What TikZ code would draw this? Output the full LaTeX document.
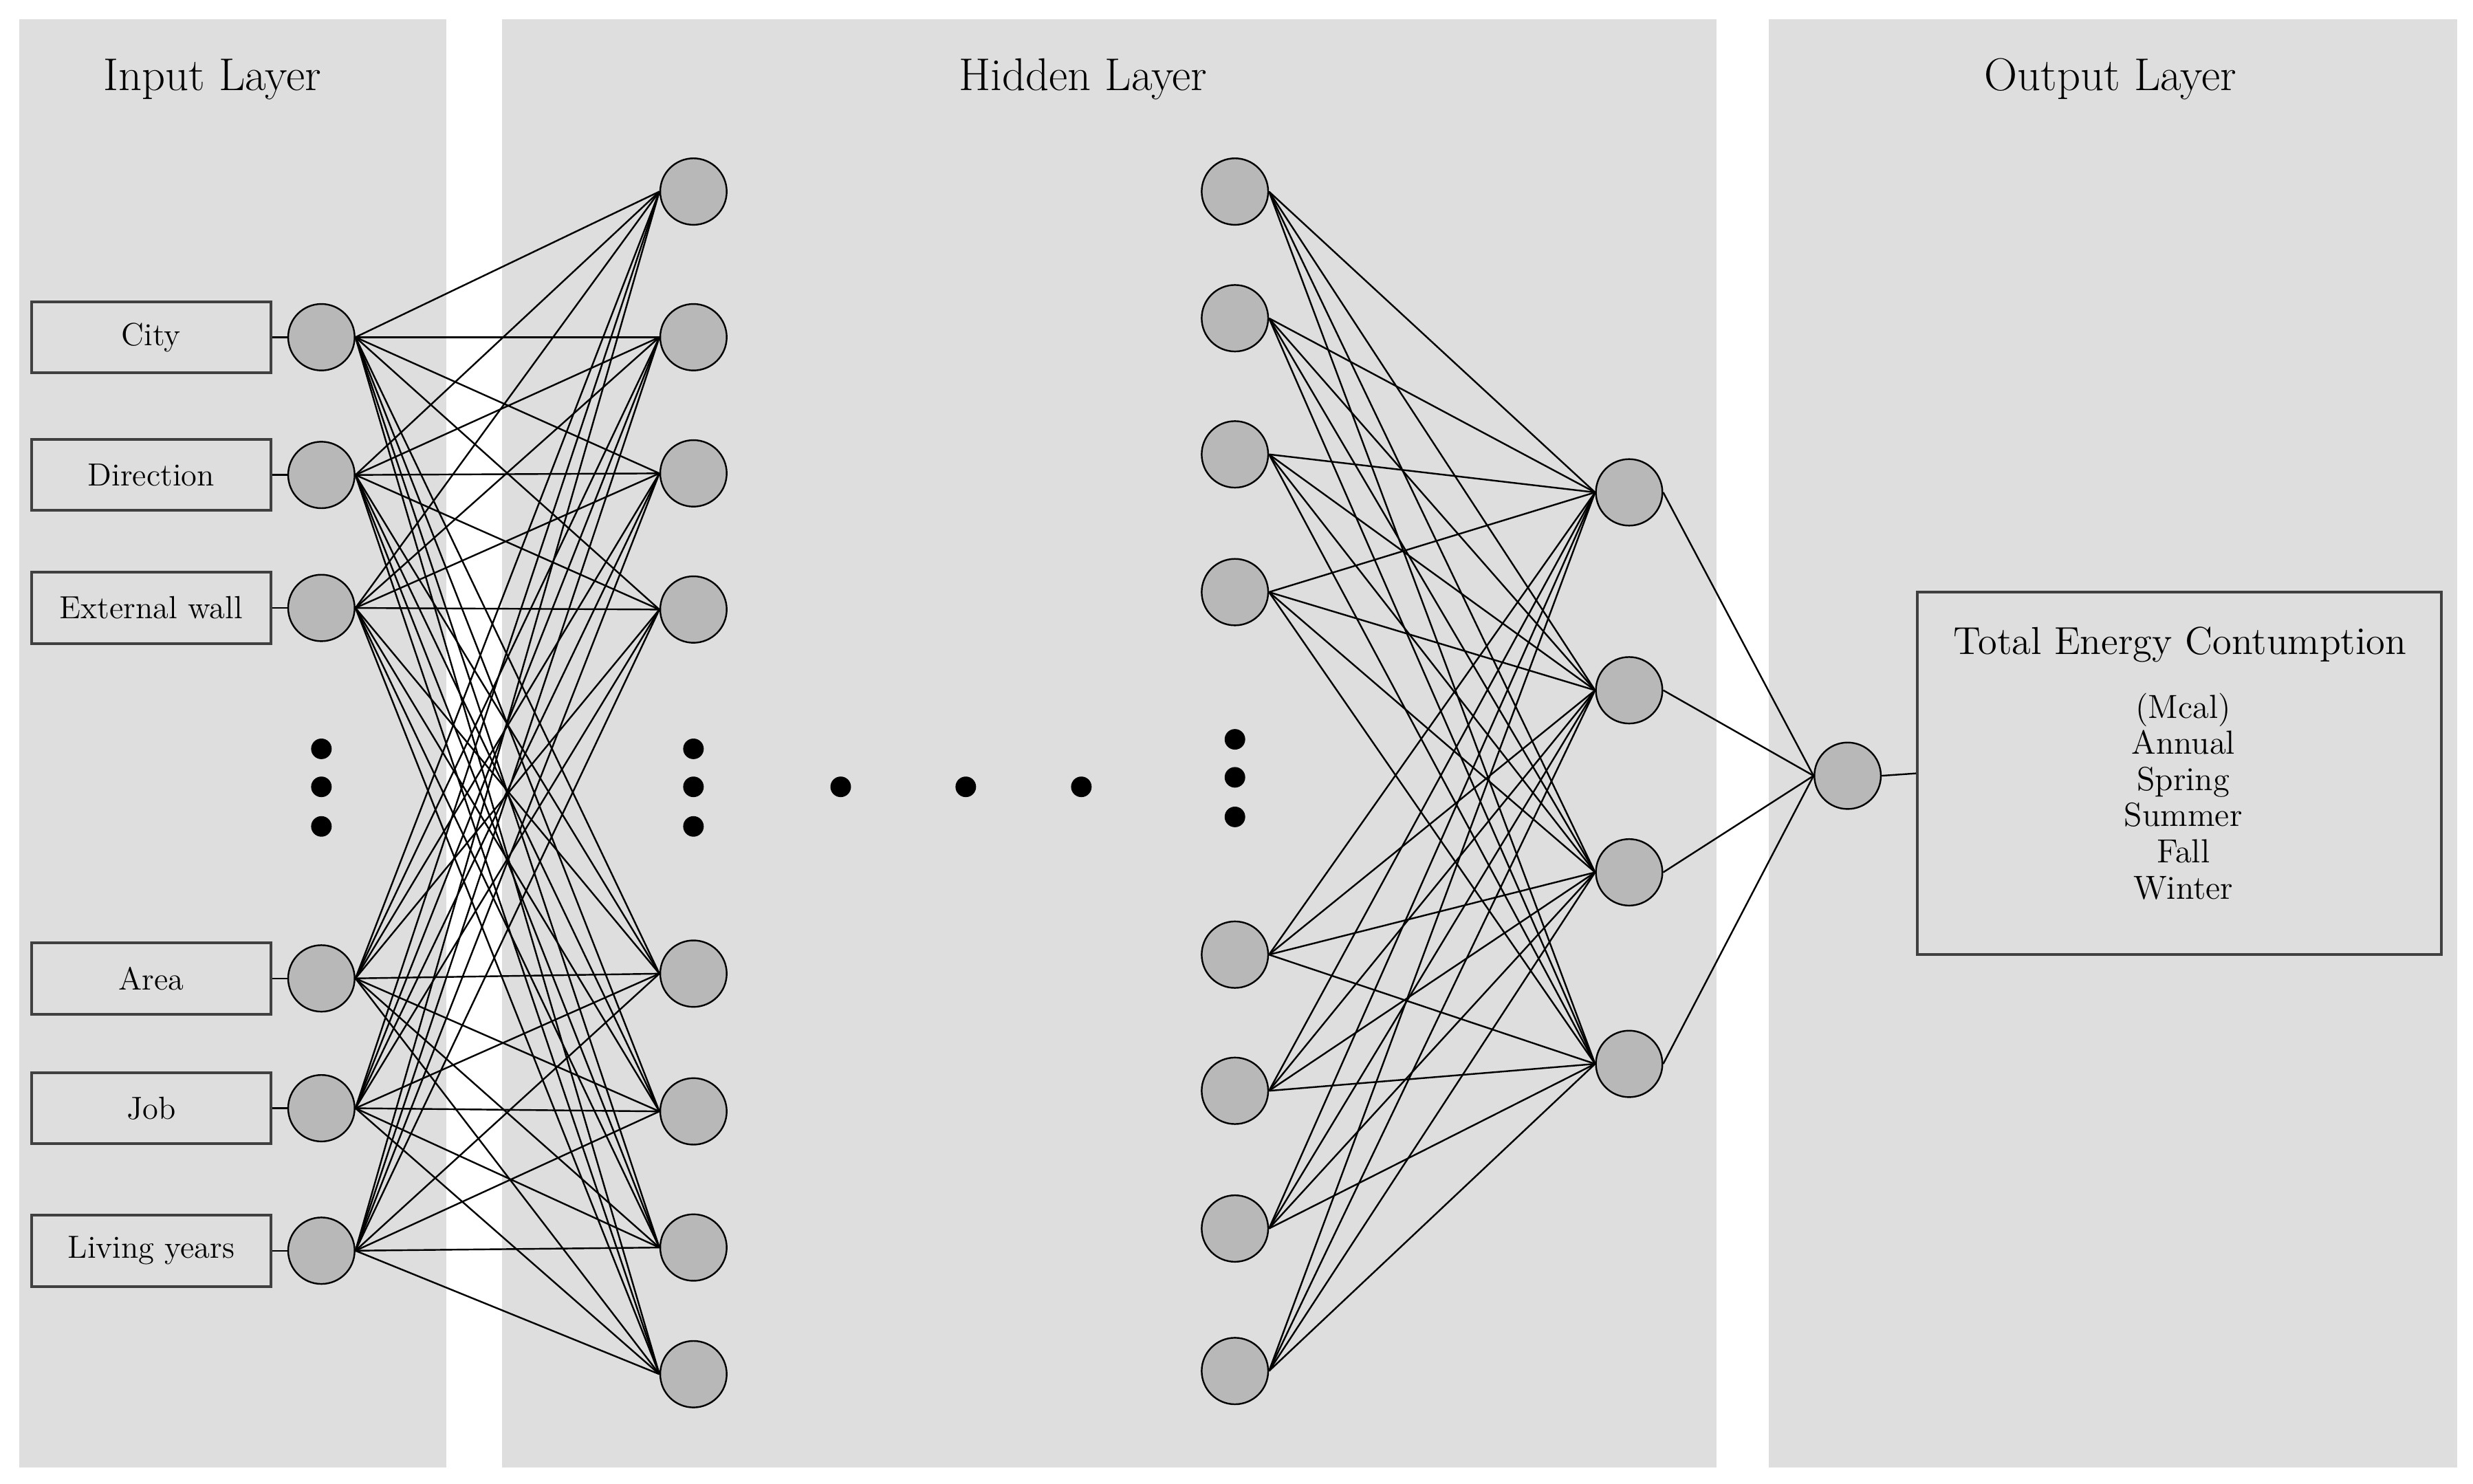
\documentclass[tikz,border=0pt]{standalone}
\begin{document}
\begin{tikzpicture}[x=0.02cm,y=-0.02cm,
  panel/.style={fill=black!13,draw=none},
  neu/.style={circle,draw=black,fill=black!28,minimum size=0.84cm,inner sep=0pt,line width=0.6pt},
  lbl/.style={draw=black!75,line width=1pt,fill=black!13,minimum width=3.02cm,minimum height=0.9cm,inner sep=0pt,font=\fontsize{11.5}{13}\selectfont},
  ttl/.style={font=\fontsize{16.5}{19}\selectfont},
  dot/.style={circle,fill=black,minimum size=0.26cm,inner sep=0pt},
  ln/.style={line width=0.6pt}]
\useasboundingbox (0,0) rectangle (1562,937);
\fill[white] (0,0) rectangle (1562,937);
\fill[panel] (12,12) rectangle (282,927);
\fill[panel] (317,12) rectangle (1084,927);
\fill[panel] (1117,12) rectangle (1552,927);
\node[ttl] (t1) at (134,50) {Input Layer};
\node[ttl] (t2) at (684,50) {Hidden Layer};
\node[ttl] (t3) at (1333,50) {Output Layer};
% inputs
\foreach \n/\y/\t in {1/213/City,2/300/Direction,3/384/External wall,4/618/Area,5/700/Job,6/790/Living years}{
  \node[lbl] (b\n) at (95.5,\y) {\t};
  \node[neu] (i\n) at (203,\y) {};
  \draw[ln] (b\n.east) -- (i\n);
}
\foreach \n/\y in {1/121,2/213,3/299,4/385,5/615,6/702,7/788,8/868}{\node[neu] (h\n) at (438,\y) {};}
\foreach \n/\y in {1/121,2/201,3/287,4/374,5/603,6/689,7/776,8/866}{\node[neu] (g\n) at (780,\y) {};}
\foreach \n/\y in {1/311,2/436,3/551,4/672}{\node[neu] (k\n) at (1029,\y) {};}
\node[neu] (o) at (1167,490) {};
\foreach \i in {1,...,6}{\foreach \j in {1,...,8}{\draw[ln] (i\i.east) -- (h\j.west);}}
\foreach \i in {1,...,8}{\foreach \j in {1,...,4}{\draw[ln] (g\i.east) -- (k\j.west);}}
\foreach \j in {1,...,4}{\draw[ln] (k\j.east) -- (o.west);}
\node[draw=black!75,line width=1pt,fill=black!13,minimum width=6.62cm,minimum height=4.58cm,inner sep=0pt] (ob) at (1376.5,488.5) {};
\draw[ln] (o.east) -- (ob.west);
\node[font=\fontsize{14}{16}\selectfont] (ot) at (1377,407) {Total Energy Contumption};
\node[font=\fontsize{12}{14}\selectfont,align=center] (ol) at (1379,503) {(Mcal)\\[-1pt]Annual\\[-1pt]Spring\\[-1pt]Summer\\[-1pt]Fall\\[-1pt]Winter};
% dots
\foreach \n/\y in {1/473,2/497,3/522}{\node[dot] (da\n) at (203,\y) {}; \node[dot] (db\n) at (438,\y) {};}
\foreach \n/\y in {1/467,2/491,3/516}{\node[dot] (dc\n) at (780,\y) {};}
\foreach \n/\x in {1/531,2/610,3/683}{\node[dot] (dh\n) at (\x,497) {};}
\end{tikzpicture}
\end{document}
